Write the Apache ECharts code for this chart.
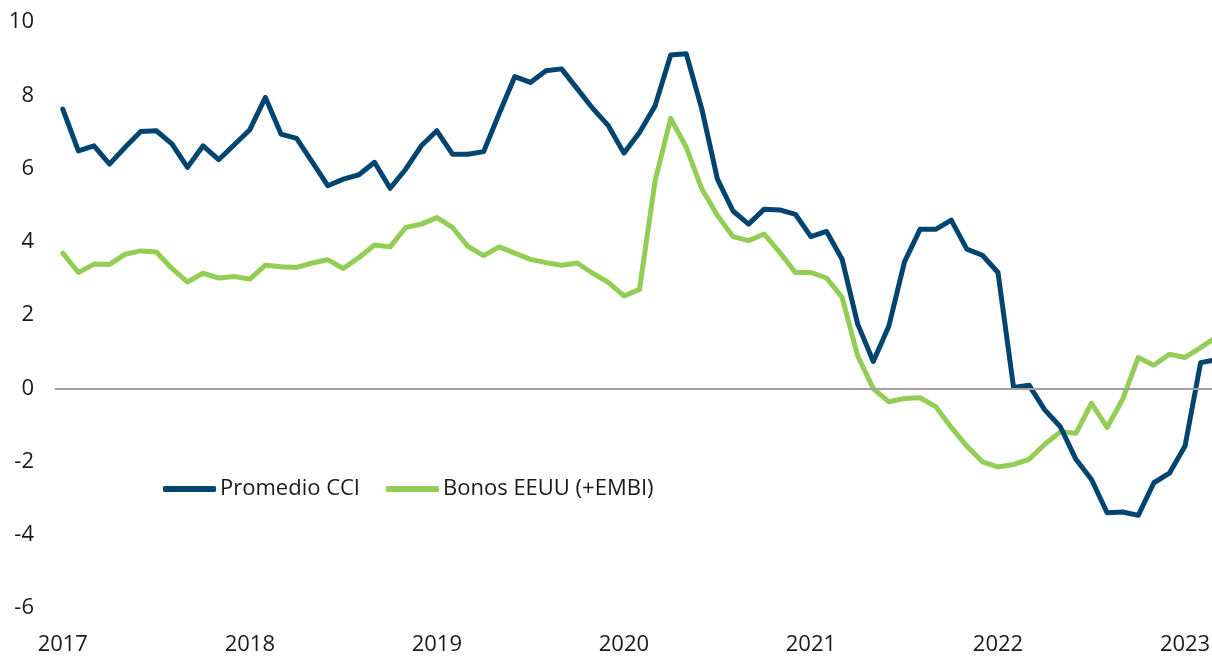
<!DOCTYPE html>
<html>
<head>
<meta charset="utf-8">
<script src="https://cdn.jsdelivr.net/npm/echarts@6/dist/echarts.min.js"></script>
<style>
html,body{margin:0;padding:0;background:#fff;overflow:hidden;width:1212px;height:656px;}
#c{width:1224px;height:656px;}
</style>
</head>
<body>
<div id="c"></div>
<script>
// Monthly, Jan 2017 .. Mar 2023
const years = [2017, 2018, 2019, 2020, 2021, 2022, 2023];
const seriesNames = ['Promedio CCI', 'Bonos EEUU (+EMBI)'];
const promedioCCI = [
  7.62, 6.48, 6.62, 6.12, 6.58, 7.01, 7.03, 6.67, 6.03, 6.62, 6.24, 6.65,
  7.06, 7.94, 6.94, 6.82, 6.18, 5.53, 5.71, 5.83, 6.17, 5.46, 5.98, 6.62,
  7.03, 6.39, 6.39, 6.46, 7.50, 8.51, 8.35, 8.67, 8.72, 8.18, 7.64, 7.17,
  6.42, 6.98, 7.71, 9.10, 9.13, 7.62, 5.71, 4.84, 4.48, 4.89, 4.87, 4.75,
  4.14, 4.28, 3.52, 1.75, 0.73, 1.70, 3.45, 4.34, 4.34, 4.59, 3.80, 3.63,
  3.16, 0.02, 0.08, -0.59, -1.05, -1.94, -2.49, -3.40, -3.38, -3.47, -2.58, -2.32,
  -1.58, 0.70, 0.78
];
const bonosEEUU = [
  3.69, 3.16, 3.39, 3.38, 3.66, 3.75, 3.72, 3.27, 2.90, 3.14, 3.01, 3.05,
  2.98, 3.36, 3.32, 3.30, 3.42, 3.51, 3.27, 3.57, 3.91, 3.86, 4.39, 4.48,
  4.66, 4.39, 3.87, 3.62, 3.86, 3.69, 3.52, 3.43, 3.36, 3.42, 3.14, 2.89,
  2.52, 2.70, 5.66, 7.37, 6.58, 5.44, 4.72, 4.14, 4.03, 4.21, 3.71, 3.16,
  3.16, 3.01, 2.48, 0.88, -0.01, -0.37, -0.28, -0.26, -0.50, -1.07, -1.58, -2.01,
  -2.15, -2.08, -1.94, -1.53, -1.19, -1.23, -0.41, -1.07, -0.30, 0.84, 0.63, 0.93,
  0.84, 1.11, 1.40
];
const zeroLine = 0;
const categories = [];
for (const y of years) {
  for (let m = 1; m <= 12; m++) {
    if (categories.length < promedioCCI.length) categories.push(y + '-' + String(m).padStart(2, '0'));
  }
}
const FONT = '"Open Sans"';
const chart = echarts.init(document.getElementById('c'), null, {renderer: 'canvas'});
chart.setOption({
  animation: false,
  backgroundColor: '#fff',
  textStyle: {fontFamily: FONT},
  grid: {left: 55, right: 0, top: 22, bottom: 48, containLabel: false},
  legend: {
    left: 158, top: 473, padding: 5,
    itemWidth: 53, itemHeight: 6, itemGap: 26,
    icon: 'roundRect',
    textStyle: {fontFamily: FONT, fontSize: 22, color: '#1a1a1a', padding: [0, 0, 0, -1]},
    data: seriesNames
  },
  xAxis: {
    type: 'category', data: categories, boundaryGap: true,
    axisLine: {show: false}, axisTick: {show: false}, splitLine: {show: false},
    axisLabel: {
      interval: 11, margin: 26, fontSize: 22, color: '#1a1a1a', fontFamily: FONT,
      formatter: v => v.slice(0, 4)
    }
  },
  yAxis: {
    type: 'value', min: -6, max: 10, interval: 2,
    axisLine: {show: false}, axisTick: {show: false}, splitLine: {show: false},
    axisLabel: {margin: 21, fontSize: 22, color: '#1a1a1a', fontFamily: FONT}
  },
  series: [{
    name: 'zero', type: 'line', data: [], z: 1, silent: true,
    markLine: {
      silent: true, symbol: 'none', animation: false,
      label: {show: false},
      lineStyle: {color: '#a0a0a0', width: 2, type: 'solid'},
      data: [{yAxis: zeroLine}]
    }
  }, {
    name: seriesNames[0], type: 'line', data: promedioCCI, z: 3,
    symbol: 'none', smooth: false,
    lineStyle: {color: '#004470', width: 5, join: 'round', cap: 'round'},
    itemStyle: {color: '#004470'}
  }, {
    name: seriesNames[1], type: 'line', data: bonosEEUU, z: 2,
    symbol: 'none', smooth: false,
    lineStyle: {color: '#92cd55', width: 5, join: 'round', cap: 'round'},
    itemStyle: {color: '#92cd55'}
  }]
});
</script>
</body>
</html>
